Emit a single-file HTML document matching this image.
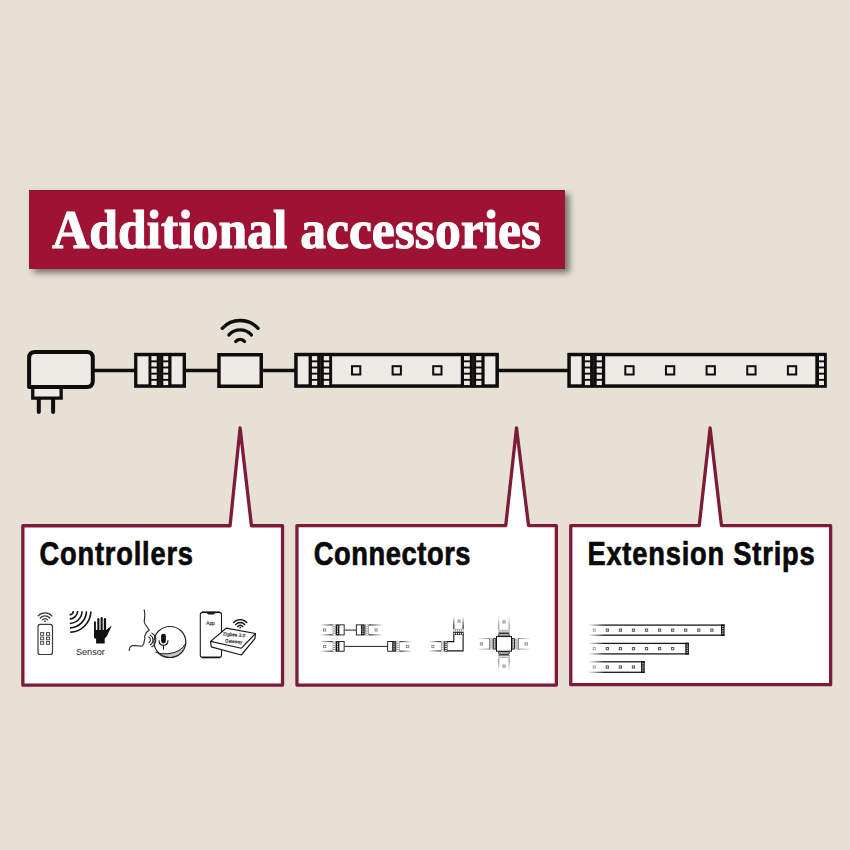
<!DOCTYPE html>
<html><head><meta charset="utf-8"><style>
html,body{margin:0;padding:0;background:#e6e0d5;}
body{width:850px;height:850px;position:relative;overflow:hidden;}
svg{position:absolute;left:0;top:0;}
</style></head><body>
<svg width="850" height="850" viewBox="0 0 850 850">
<defs><filter id="sh" x="-10%" y="-30%" width="130%" height="180%"><feGaussianBlur stdDeviation="3"/></filter><linearGradient id="g1" gradientUnits="userSpaceOnUse" x1="319.8" y1="0" x2="332.7" y2="0"><stop offset="0" stop-color="#1a1a1a" stop-opacity="0"/><stop offset="1" stop-color="#1a1a1a" stop-opacity="1"/></linearGradient>
<linearGradient id="g2" gradientUnits="userSpaceOnUse" x1="319.8" y1="0" x2="332.7" y2="0"><stop offset="0" stop-color="#1a1a1a" stop-opacity="0"/><stop offset="1" stop-color="#1a1a1a" stop-opacity="1"/></linearGradient>
<linearGradient id="g3" gradientUnits="userSpaceOnUse" x1="383.3" y1="0" x2="368.8" y2="0"><stop offset="0" stop-color="#1a1a1a" stop-opacity="0"/><stop offset="0.9655172413793104" stop-color="#1a1a1a" stop-opacity="1"/></linearGradient>
<linearGradient id="g4" gradientUnits="userSpaceOnUse" x1="383.3" y1="0" x2="368.8" y2="0"><stop offset="0" stop-color="#1a1a1a" stop-opacity="0"/><stop offset="0.9655172413793104" stop-color="#1a1a1a" stop-opacity="1"/></linearGradient>
<linearGradient id="g5" gradientUnits="userSpaceOnUse" x1="319.8" y1="0" x2="332.7" y2="0"><stop offset="0" stop-color="#1a1a1a" stop-opacity="0"/><stop offset="1" stop-color="#1a1a1a" stop-opacity="1"/></linearGradient>
<linearGradient id="g6" gradientUnits="userSpaceOnUse" x1="319.8" y1="0" x2="332.7" y2="0"><stop offset="0" stop-color="#1a1a1a" stop-opacity="0"/><stop offset="1" stop-color="#1a1a1a" stop-opacity="1"/></linearGradient>
<linearGradient id="g7" gradientUnits="userSpaceOnUse" x1="412.2" y1="0" x2="399.6" y2="0"><stop offset="0" stop-color="#1a1a1a" stop-opacity="0"/><stop offset="1" stop-color="#1a1a1a" stop-opacity="1"/></linearGradient>
<linearGradient id="g8" gradientUnits="userSpaceOnUse" x1="412.2" y1="0" x2="399.6" y2="0"><stop offset="0" stop-color="#1a1a1a" stop-opacity="0"/><stop offset="1" stop-color="#1a1a1a" stop-opacity="1"/></linearGradient>
<linearGradient id="g9" gradientUnits="userSpaceOnUse" x1="428.2" y1="0" x2="441" y2="0"><stop offset="0" stop-color="#1a1a1a" stop-opacity="0"/><stop offset="1" stop-color="#1a1a1a" stop-opacity="1"/></linearGradient>
<linearGradient id="g10" gradientUnits="userSpaceOnUse" x1="428.2" y1="0" x2="441" y2="0"><stop offset="0" stop-color="#1a1a1a" stop-opacity="0"/><stop offset="1" stop-color="#1a1a1a" stop-opacity="1"/></linearGradient>
<linearGradient id="g11" gradientUnits="userSpaceOnUse" x1="0" y1="616.2" x2="0" y2="628.9"><stop offset="0" stop-color="#1a1a1a" stop-opacity="0"/><stop offset="0.7874015748031539" stop-color="#1a1a1a" stop-opacity="1"/></linearGradient>
<linearGradient id="g12" gradientUnits="userSpaceOnUse" x1="0" y1="616.2" x2="0" y2="628.9"><stop offset="0" stop-color="#1a1a1a" stop-opacity="0"/><stop offset="0.7874015748031539" stop-color="#1a1a1a" stop-opacity="1"/></linearGradient>
<linearGradient id="g13" gradientUnits="userSpaceOnUse" x1="0" y1="615.8" x2="0" y2="629.8"><stop offset="0" stop-color="#777" stop-opacity="0"/><stop offset="0.7142857142857143" stop-color="#777" stop-opacity="1"/></linearGradient>
<linearGradient id="g14" gradientUnits="userSpaceOnUse" x1="0" y1="615.8" x2="0" y2="629.8"><stop offset="0" stop-color="#777" stop-opacity="0"/><stop offset="0.7142857142857143" stop-color="#777" stop-opacity="1"/></linearGradient>
<linearGradient id="g15" gradientUnits="userSpaceOnUse" x1="0" y1="671.5" x2="0" y2="658.1"><stop offset="0" stop-color="#777" stop-opacity="0"/><stop offset="0.7462686567164192" stop-color="#777" stop-opacity="1"/></linearGradient>
<linearGradient id="g16" gradientUnits="userSpaceOnUse" x1="0" y1="671.5" x2="0" y2="658.1"><stop offset="0" stop-color="#777" stop-opacity="0"/><stop offset="0.7462686567164192" stop-color="#777" stop-opacity="1"/></linearGradient>
<linearGradient id="g17" gradientUnits="userSpaceOnUse" x1="476.5" y1="0" x2="489.4" y2="0"><stop offset="0" stop-color="#777" stop-opacity="0"/><stop offset="1" stop-color="#777" stop-opacity="1"/></linearGradient>
<linearGradient id="g18" gradientUnits="userSpaceOnUse" x1="476.5" y1="0" x2="489.4" y2="0"><stop offset="0" stop-color="#777" stop-opacity="0"/><stop offset="1" stop-color="#777" stop-opacity="1"/></linearGradient>
<linearGradient id="g19" gradientUnits="userSpaceOnUse" x1="531.5" y1="0" x2="518.6" y2="0"><stop offset="0" stop-color="#777" stop-opacity="0"/><stop offset="1" stop-color="#777" stop-opacity="1"/></linearGradient>
<linearGradient id="g20" gradientUnits="userSpaceOnUse" x1="531.5" y1="0" x2="518.6" y2="0"><stop offset="0" stop-color="#777" stop-opacity="0"/><stop offset="1" stop-color="#777" stop-opacity="1"/></linearGradient>
<linearGradient id="g21" gradientUnits="userSpaceOnUse" x1="588.1" y1="0" x2="724.6" y2="0"><stop offset="0" stop-color="#1a1a1a" stop-opacity="0"/><stop offset="0.11721611721611722" stop-color="#1a1a1a" stop-opacity="1"/></linearGradient>
<linearGradient id="g22" gradientUnits="userSpaceOnUse" x1="588.1" y1="0" x2="724.6" y2="0"><stop offset="0" stop-color="#1a1a1a" stop-opacity="0"/><stop offset="0.11721611721611722" stop-color="#1a1a1a" stop-opacity="1"/></linearGradient>
<linearGradient id="g23" gradientUnits="userSpaceOnUse" x1="588.1" y1="0" x2="688.9" y2="0"><stop offset="0" stop-color="#1a1a1a" stop-opacity="0"/><stop offset="0.1587301587301588" stop-color="#1a1a1a" stop-opacity="1"/></linearGradient>
<linearGradient id="g24" gradientUnits="userSpaceOnUse" x1="588.1" y1="0" x2="688.9" y2="0"><stop offset="0" stop-color="#1a1a1a" stop-opacity="0"/><stop offset="0.1587301587301588" stop-color="#1a1a1a" stop-opacity="1"/></linearGradient>
<linearGradient id="g25" gradientUnits="userSpaceOnUse" x1="588.1" y1="0" x2="644.7" y2="0"><stop offset="0" stop-color="#1a1a1a" stop-opacity="0"/><stop offset="0.28268551236749107" stop-color="#1a1a1a" stop-opacity="1"/></linearGradient>
<linearGradient id="g26" gradientUnits="userSpaceOnUse" x1="588.1" y1="0" x2="644.7" y2="0"><stop offset="0" stop-color="#1a1a1a" stop-opacity="0"/><stop offset="0.28268551236749107" stop-color="#1a1a1a" stop-opacity="1"/></linearGradient></defs>
<rect x="0" y="0" width="850" height="850" fill="#e6e0d5"/>
<rect x="33.5" y="194" width="536" height="79" fill="#5f5a54" opacity="0.8" filter="url(#sh)"/>
<rect x="29" y="190" width="536" height="79" fill="#9e1233"/>
<rect x="29" y="190" width="536" height="1.2" fill="#7c1a2e" opacity="0.8"/>
<text x="52" y="248.3" font-family="Liberation Serif" font-weight="bold" font-size="54" fill="#fff" stroke="#fff" stroke-width="1.1" textLength="489" lengthAdjust="spacingAndGlyphs">Additional accessories</text>
<g stroke="#0d0d0d" stroke-width="3.3">
<line x1="90" y1="370.5" x2="136" y2="370.5"/>
<line x1="184" y1="370.5" x2="219" y2="370.5"/>
<line x1="261" y1="370.5" x2="296" y2="370.5"/>
<line x1="497" y1="370.5" x2="569" y2="370.5"/>
</g>
<path d="M32.75,386 V398.15 H61.15 V386 Z" fill="#eeebe6" stroke="#0d0d0d" stroke-width="3.3"/>
<path d="M29.1,386.9 V358 Q29.1,351.9 35.2,351.9 H86.8 Q92.8,351.9 92.8,358 V381 Q92.8,386.9 86.8,386.9 Z" fill="#eeebe6" stroke="#0d0d0d" stroke-width="4" stroke-linejoin="round"/>
<g stroke="#0d0d0d" stroke-width="4" stroke-linecap="round"><line x1="38.8" y1="399" x2="38.8" y2="411.9"/><line x1="53.1" y1="399" x2="53.1" y2="411.9"/></g>
<rect x="134.10" y="352.80" width="51.90" height="35.00" fill="#0d0d0d"/>
<rect x="137.40" y="356.30" width="11.10" height="28.00" fill="#eeebe6"/>
<rect x="151.40" y="356.10" width="5.30" height="4.30" fill="#eeebe6"/>
<rect x="151.40" y="362.27" width="5.30" height="4.30" fill="#eeebe6"/>
<rect x="151.40" y="368.44" width="5.30" height="4.30" fill="#eeebe6"/>
<rect x="151.40" y="374.61" width="5.30" height="4.30" fill="#eeebe6"/>
<rect x="151.40" y="380.78" width="5.30" height="4.30" fill="#eeebe6"/>
<rect x="163.30" y="356.10" width="4.90" height="4.30" fill="#eeebe6"/>
<rect x="163.30" y="362.27" width="4.90" height="4.30" fill="#eeebe6"/>
<rect x="163.30" y="368.44" width="4.90" height="4.30" fill="#eeebe6"/>
<rect x="163.30" y="374.61" width="4.90" height="4.30" fill="#eeebe6"/>
<rect x="163.30" y="380.78" width="4.90" height="4.30" fill="#eeebe6"/>
<rect x="171.50" y="356.30" width="11.10" height="28.00" fill="#eeebe6"/>
<rect x="218.95" y="354.75" width="42.3" height="31.5" fill="#eeebe6" stroke="#0d0d0d" stroke-width="3.5"/>
<path d="M222.23,328.29 A24.5,24.5 0 0 1 258.07,328.29" fill="none" stroke="#0d0d0d" stroke-width="3.3" stroke-linecap="round"/>
<path d="M228.93,334.90 A15.1,15.1 0 0 1 251.37,334.90" fill="none" stroke="#0d0d0d" stroke-width="3.3" stroke-linecap="round"/>
<path d="M235.74,341.55 A5.6,5.6 0 0 1 244.56,341.55" fill="none" stroke="#0d0d0d" stroke-width="3.3" stroke-linecap="round"/>
<rect x="294.20" y="352.80" width="204.70" height="35.00" fill="#0d0d0d"/>
<rect x="297.70" y="356.30" width="10.90" height="28.00" fill="#eeebe6"/>
<rect x="311.90" y="356.10" width="5.30" height="4.30" fill="#eeebe6"/>
<rect x="311.90" y="362.27" width="5.30" height="4.30" fill="#eeebe6"/>
<rect x="311.90" y="368.44" width="5.30" height="4.30" fill="#eeebe6"/>
<rect x="311.90" y="374.61" width="5.30" height="4.30" fill="#eeebe6"/>
<rect x="311.90" y="380.78" width="5.30" height="4.30" fill="#eeebe6"/>
<rect x="323.80" y="356.10" width="5.40" height="4.30" fill="#eeebe6"/>
<rect x="323.80" y="362.27" width="5.40" height="4.30" fill="#eeebe6"/>
<rect x="323.80" y="368.44" width="5.40" height="4.30" fill="#eeebe6"/>
<rect x="323.80" y="374.61" width="5.40" height="4.30" fill="#eeebe6"/>
<rect x="323.80" y="380.78" width="5.40" height="4.30" fill="#eeebe6"/>
<rect x="332.10" y="356.30" width="128.70" height="28.00" fill="#eeebe6"/>
<rect x="464.00" y="356.10" width="5.80" height="4.30" fill="#eeebe6"/>
<rect x="464.00" y="362.27" width="5.80" height="4.30" fill="#eeebe6"/>
<rect x="464.00" y="368.44" width="5.80" height="4.30" fill="#eeebe6"/>
<rect x="464.00" y="374.61" width="5.80" height="4.30" fill="#eeebe6"/>
<rect x="464.00" y="380.78" width="5.80" height="4.30" fill="#eeebe6"/>
<rect x="476.10" y="356.10" width="5.30" height="4.30" fill="#eeebe6"/>
<rect x="476.10" y="362.27" width="5.30" height="4.30" fill="#eeebe6"/>
<rect x="476.10" y="368.44" width="5.30" height="4.30" fill="#eeebe6"/>
<rect x="476.10" y="374.61" width="5.30" height="4.30" fill="#eeebe6"/>
<rect x="476.10" y="380.78" width="5.30" height="4.30" fill="#eeebe6"/>
<rect x="484.60" y="356.30" width="10.80" height="28.00" fill="#eeebe6"/>
<rect x="352.00" y="366.20" width="8.30" height="8.30" fill="none" stroke="#0d0d0d" stroke-width="2.0"/>
<rect x="392.60" y="366.20" width="8.30" height="8.30" fill="none" stroke="#0d0d0d" stroke-width="2.0"/>
<rect x="433.20" y="366.20" width="8.30" height="8.30" fill="none" stroke="#0d0d0d" stroke-width="2.0"/>
<rect x="567.30" y="352.80" width="259.50" height="35.00" fill="#0d0d0d"/>
<rect x="570.80" y="356.30" width="10.80" height="28.00" fill="#eeebe6"/>
<rect x="584.90" y="356.10" width="5.20" height="4.30" fill="#eeebe6"/>
<rect x="584.90" y="362.27" width="5.20" height="4.30" fill="#eeebe6"/>
<rect x="584.90" y="368.44" width="5.20" height="4.30" fill="#eeebe6"/>
<rect x="584.90" y="374.61" width="5.20" height="4.30" fill="#eeebe6"/>
<rect x="584.90" y="380.78" width="5.20" height="4.30" fill="#eeebe6"/>
<rect x="596.70" y="356.10" width="5.20" height="4.30" fill="#eeebe6"/>
<rect x="596.70" y="362.27" width="5.20" height="4.30" fill="#eeebe6"/>
<rect x="596.70" y="368.44" width="5.20" height="4.30" fill="#eeebe6"/>
<rect x="596.70" y="374.61" width="5.20" height="4.30" fill="#eeebe6"/>
<rect x="596.70" y="380.78" width="5.20" height="4.30" fill="#eeebe6"/>
<rect x="605.20" y="356.30" width="210.10" height="28.00" fill="#eeebe6"/>
<rect x="819.00" y="356.10" width="5.00" height="4.30" fill="#eeebe6"/>
<rect x="819.00" y="362.27" width="5.00" height="4.30" fill="#eeebe6"/>
<rect x="819.00" y="368.44" width="5.00" height="4.30" fill="#eeebe6"/>
<rect x="819.00" y="374.61" width="5.00" height="4.30" fill="#eeebe6"/>
<rect x="819.00" y="380.78" width="5.00" height="4.30" fill="#eeebe6"/>
<rect x="625.30" y="366.20" width="8.30" height="8.30" fill="none" stroke="#0d0d0d" stroke-width="2.0"/>
<rect x="665.95" y="366.20" width="8.30" height="8.30" fill="none" stroke="#0d0d0d" stroke-width="2.0"/>
<rect x="706.60" y="366.20" width="8.30" height="8.30" fill="none" stroke="#0d0d0d" stroke-width="2.0"/>
<rect x="747.25" y="366.20" width="8.30" height="8.30" fill="none" stroke="#0d0d0d" stroke-width="2.0"/>
<rect x="787.90" y="366.20" width="8.30" height="8.30" fill="none" stroke="#0d0d0d" stroke-width="2.0"/>
<line x1="159.9" y1="355.5" x2="159.9" y2="385.2" stroke="#4a4a4a" stroke-width="0.45"/>
<line x1="320.6" y1="355.5" x2="320.6" y2="385.2" stroke="#4a4a4a" stroke-width="0.45"/>
<line x1="473.0" y1="355.5" x2="473.0" y2="385.2" stroke="#4a4a4a" stroke-width="0.45"/>
<line x1="593.4" y1="355.5" x2="593.4" y2="385.2" stroke="#4a4a4a" stroke-width="0.45"/>
<path d="M22.849999999999998,525.75 H230.05 L240.1,428.0 L251.45,525.75 H282.55 V685.0500000000001 H22.849999999999998 Z" fill="#fff" stroke="#7e1b38" stroke-width="3.3" stroke-linejoin="round"/>
<path d="M296.95,525.55 H505.75 L516.5,428.0 L528.5500000000001,525.55 H556.35 V685.0500000000001 H296.95 Z" fill="#fff" stroke="#7e1b38" stroke-width="3.3" stroke-linejoin="round"/>
<path d="M570.75,525.55 H699.25 L710.1,428.0 L721.45,525.55 H830.65 V684.65 H570.75 Z" fill="#fff" stroke="#7e1b38" stroke-width="3.3" stroke-linejoin="round"/>
<rect x="38" y="624.4" width="14.5" height="30.1" rx="2.3" fill="#fff" stroke="#3a3a3a" stroke-width="1.2"/>
<rect x="40.60" y="632.60" width="3.1" height="2.7" fill="none" stroke="#444" stroke-width="0.95"/>
<rect x="40.60" y="637.10" width="3.1" height="2.7" fill="none" stroke="#444" stroke-width="0.95"/>
<rect x="40.60" y="641.60" width="3.1" height="2.7" fill="none" stroke="#444" stroke-width="0.95"/>
<rect x="46.50" y="632.60" width="3.1" height="2.7" fill="none" stroke="#444" stroke-width="0.95"/>
<rect x="46.50" y="637.10" width="3.1" height="2.7" fill="none" stroke="#444" stroke-width="0.95"/>
<rect x="46.50" y="641.60" width="3.1" height="2.7" fill="none" stroke="#444" stroke-width="0.95"/>
<path d="M38.16,615.84 A9.2,9.2 0 0 1 51.84,615.84" fill="none" stroke="#3a3a3a" stroke-width="1.3" stroke-linecap="round"/>
<path d="M40.25,618.01 A6.2,6.2 0 0 1 49.75,618.01" fill="none" stroke="#3a3a3a" stroke-width="1.3" stroke-linecap="round"/>
<path d="M42.32,619.91 A3.4,3.4 0 0 1 47.68,619.91" fill="none" stroke="#3a3a3a" stroke-width="1.3" stroke-linecap="round"/>
<circle cx="45" cy="621.2" r="0.9" fill="#3a3a3a"/>
<path d="M73.30,610.94 A3.9,3.9 0 0 1 69.54,614.70" fill="none" stroke="#111" stroke-width="1.55" stroke-linecap="butt"/>
<path d="M77.69,611.09 A8.3,8.3 0 0 1 69.69,619.09" fill="none" stroke="#111" stroke-width="1.55" stroke-linecap="butt"/>
<path d="M82.09,611.24 A12.7,12.7 0 0 1 69.84,623.49" fill="none" stroke="#111" stroke-width="1.55" stroke-linecap="butt"/>
<path d="M86.49,611.40 A17.1,17.1 0 0 1 70.00,627.89" fill="none" stroke="#111" stroke-width="1.55" stroke-linecap="butt"/>
<path d="M90.89,611.55 A21.5,21.5 0 0 1 70.15,632.29" fill="none" stroke="#111" stroke-width="1.55" stroke-linecap="butt"/>
<g fill="#111"><rect x="94" y="621.2" width="1.9" height="17" rx="0.95"/><rect x="97.3" y="618" width="2.1" height="16" rx="1"/><rect x="100.6" y="617" width="2.1" height="16" rx="1"/><rect x="103.8" y="618" width="2.3" height="16" rx="1.1"/><path d="M94,630 H106.2 L111.8,625.4 L107.5,635 Q106,638 104.7,638.5 V643.6 H96.1 V639 Q94,638 94,635 Z"/></g>
<text x="75.9" y="655" font-family="Liberation Sans" font-size="9.5" fill="#222" textLength="29" lengthAdjust="spacingAndGlyphs">Sensor</text>
<path d="M144.1,609.3 Q145.4,614.5 144.6,618 Q143.6,621.5 144.8,623.5 L149.3,630.2 Q147,631.5 146.3,632.6 Q145.6,633.8 145.6,634.6 Q144.2,635.8 144.5,636.8 Q145.4,637.6 144.9,638.6 Q144.2,639.8 144.3,641.3 Q144,644.2 142.5,645.6 Q141.5,646.3 139.5,646 Q134,645.3 132,645.8 Q129.9,646.6 129.6,648.4 L129.1,650.8" fill="none" stroke="#222" stroke-width="1.1" stroke-linejoin="round"/>
<path d="M155.6,652.2 Q163,660 172,657.8 Q182,655.5 185.9,643.6 Q180,652 168,653.2 Q160,653.8 155.6,652.2 Z" fill="#c4c4c4"/>
<ellipse cx="169.9" cy="642" rx="15.9" ry="15.5" fill="none" stroke="#222" stroke-width="1.2"/>
<path d="M155.6,652.2 Q161,654.5 168,653.8 Q181,652.5 186,643.2" fill="none" stroke="#222" stroke-width="1"/>
<rect x="161.1" y="633.7" width="4.8" height="9.8" rx="2.4" fill="#111"/>
<path d="M159,640.2 Q159,645.2 163.5,645.2 Q168,645.2 168,640.2" fill="none" stroke="#111" stroke-width="1.1"/>
<line x1="163.5" y1="645.2" x2="163.5" y2="649.6" stroke="#111" stroke-width="1.1"/>
<path d="M148.49,636.84 A3.4,3.4 0 0 1 148.49,642.96" fill="none" stroke="#222" stroke-width="1.05" stroke-linecap="butt"/>
<path d="M149.85,634.87 A5.6,5.6 0 0 1 149.85,644.93" fill="none" stroke="#222" stroke-width="1.05" stroke-linecap="butt"/>
<path d="M151.42,632.89 A7.8,7.8 0 0 1 151.42,646.91" fill="none" stroke="#222" stroke-width="1.05" stroke-linecap="butt"/>
<rect x="200.3" y="612.4" width="21.2" height="45" rx="2.2" fill="#fff" stroke="#1a1a1a" stroke-width="1.1"/>
<line x1="202" y1="612.3" x2="219.8" y2="612.3" stroke="#111" stroke-width="1.6"/>
<line x1="202" y1="657.5" x2="219.8" y2="657.5" stroke="#111" stroke-width="1.6"/>
<path d="M206.8,612.6 H215 Q215,614.4 213.5,614.4 H208.3 Q206.8,614.4 206.8,612.6 Z" fill="#1a1a1a"/>
<text x="206.2" y="624.6" font-family="Liberation Sans" font-size="5.8" fill="#111" stroke="#111" stroke-width="0.12" textLength="8.6" lengthAdjust="spacingAndGlyphs">App</text>
<path d="M210.6,641.4 L226.1,628.2 L255.5,633.5 L254.9,638.6 L241.3,655 L211.2,646.8 Z" fill="#fff" stroke="#1a1a1a" stroke-width="1.2" stroke-linejoin="round"/>
<path d="M210.6,641.4 L241.2,648.3 L255.5,633.5" fill="none" stroke="#1a1a1a" stroke-width="1.1" stroke-linejoin="round"/>
<g transform="rotate(5 234 638)" font-family="Liberation Sans" font-size="4.8" fill="#111" stroke="#111" stroke-width="0.15"><text x="222.5" y="636.3" textLength="22.5" lengthAdjust="spacingAndGlyphs">Zigbee 3.0</text><text x="225.5" y="643" textLength="17" lengthAdjust="spacingAndGlyphs">Gateway</text></g>
<path d="M233.66,622.51 A8.8,8.8 0 0 1 246.74,622.51" fill="none" stroke="#111" stroke-width="1.4" stroke-linecap="round"/>
<path d="M235.68,624.61 A5.9,5.9 0 0 1 244.72,624.61" fill="none" stroke="#111" stroke-width="1.4" stroke-linecap="round"/>
<path d="M237.66,626.62 A3.1,3.1 0 0 1 242.74,626.62" fill="none" stroke="#111" stroke-width="1.4" stroke-linecap="round"/>
<circle cx="240.2" cy="627.6" r="0.9" fill="#111"/>
<rect x="319.80" y="624.40" width="12.90" height="1.1" fill="url(#g1)"/>
<rect x="319.80" y="634.30" width="12.90" height="1.1" fill="url(#g2)"/>
<rect x="323.55" y="628.85" width="2.20" height="2.20" fill="none" stroke="#888" stroke-width="0.9"/>
<rect x="332.70" y="624.40" width="2.90" height="11.00" fill="#8c8c8c"/>
<rect x="333.25" y="624.84" width="1.80" height="1.32" fill="#fff"/>
<rect x="333.25" y="627.04" width="1.80" height="1.32" fill="#fff"/>
<rect x="333.25" y="629.24" width="1.80" height="1.32" fill="#fff"/>
<rect x="333.25" y="631.44" width="1.80" height="1.32" fill="#fff"/>
<rect x="333.25" y="633.64" width="1.80" height="1.32" fill="#fff"/>
<rect x="335.80" y="624.40" width="8.80" height="11.00" fill="#111"/>
<rect x="336.70" y="625.30" width="1.80" height="9.20" fill="#111"/>
<rect x="337.04" y="625.67" width="1.12" height="1.10" fill="#fff"/>
<rect x="337.04" y="627.51" width="1.12" height="1.10" fill="#fff"/>
<rect x="337.04" y="629.35" width="1.12" height="1.10" fill="#fff"/>
<rect x="337.04" y="631.19" width="1.12" height="1.10" fill="#fff"/>
<rect x="337.04" y="633.03" width="1.12" height="1.10" fill="#fff"/>
<rect x="339.40" y="625.30" width="4.30" height="9.20" fill="#fff"/>
<line x1="344.6" y1="630.1" x2="356" y2="630.1" stroke="#222" stroke-width="1"/>
<rect x="355.90" y="624.40" width="8.80" height="11.00" fill="#111"/>
<rect x="362.00" y="625.30" width="1.80" height="9.20" fill="#111"/>
<rect x="362.34" y="625.67" width="1.12" height="1.10" fill="#fff"/>
<rect x="362.34" y="627.51" width="1.12" height="1.10" fill="#fff"/>
<rect x="362.34" y="629.35" width="1.12" height="1.10" fill="#fff"/>
<rect x="362.34" y="631.19" width="1.12" height="1.10" fill="#fff"/>
<rect x="362.34" y="633.03" width="1.12" height="1.10" fill="#fff"/>
<rect x="356.80" y="625.30" width="4.30" height="9.20" fill="#fff"/>
<rect x="365.00" y="624.40" width="3.80" height="11.00" fill="#8c8c8c"/>
<rect x="365.72" y="624.84" width="2.36" height="1.32" fill="#fff"/>
<rect x="365.72" y="627.04" width="2.36" height="1.32" fill="#fff"/>
<rect x="365.72" y="629.24" width="2.36" height="1.32" fill="#fff"/>
<rect x="365.72" y="631.44" width="2.36" height="1.32" fill="#fff"/>
<rect x="365.72" y="633.64" width="2.36" height="1.32" fill="#fff"/>
<rect x="368.80" y="624.40" width="14.50" height="1.1" fill="url(#g3)"/>
<rect x="368.80" y="634.30" width="14.50" height="1.1" fill="url(#g4)"/>
<rect x="374.95" y="628.85" width="2.20" height="2.20" fill="none" stroke="#888" stroke-width="0.9"/>
<rect x="319.80" y="641.10" width="12.90" height="1.1" fill="url(#g5)"/>
<rect x="319.80" y="650.60" width="12.90" height="1.1" fill="url(#g6)"/>
<rect x="323.55" y="645.45" width="2.20" height="2.20" fill="none" stroke="#888" stroke-width="0.9"/>
<rect x="332.70" y="641.10" width="2.90" height="10.60" fill="#8c8c8c"/>
<rect x="333.25" y="641.52" width="1.80" height="1.27" fill="#fff"/>
<rect x="333.25" y="643.64" width="1.80" height="1.27" fill="#fff"/>
<rect x="333.25" y="645.76" width="1.80" height="1.27" fill="#fff"/>
<rect x="333.25" y="647.88" width="1.80" height="1.27" fill="#fff"/>
<rect x="333.25" y="650.00" width="1.80" height="1.27" fill="#fff"/>
<rect x="335.80" y="641.10" width="8.80" height="10.60" fill="#111"/>
<rect x="336.70" y="642.00" width="1.80" height="8.80" fill="#111"/>
<rect x="337.04" y="642.35" width="1.12" height="1.06" fill="#fff"/>
<rect x="337.04" y="644.11" width="1.12" height="1.06" fill="#fff"/>
<rect x="337.04" y="645.87" width="1.12" height="1.06" fill="#fff"/>
<rect x="337.04" y="647.63" width="1.12" height="1.06" fill="#fff"/>
<rect x="337.04" y="649.39" width="1.12" height="1.06" fill="#fff"/>
<rect x="339.40" y="642.00" width="4.30" height="8.80" fill="#fff"/>
<line x1="344.6" y1="646.4" x2="388" y2="646.4" stroke="#222" stroke-width="1"/>
<rect x="387.20" y="641.10" width="8.60" height="10.60" fill="#111"/>
<rect x="393.10" y="642.00" width="1.80" height="8.80" fill="#111"/>
<rect x="393.44" y="642.35" width="1.12" height="1.06" fill="#fff"/>
<rect x="393.44" y="644.11" width="1.12" height="1.06" fill="#fff"/>
<rect x="393.44" y="645.87" width="1.12" height="1.06" fill="#fff"/>
<rect x="393.44" y="647.63" width="1.12" height="1.06" fill="#fff"/>
<rect x="393.44" y="649.39" width="1.12" height="1.06" fill="#fff"/>
<rect x="388.10" y="642.00" width="4.10" height="8.80" fill="#fff"/>
<rect x="396.30" y="641.10" width="3.30" height="10.60" fill="#8c8c8c"/>
<rect x="396.93" y="641.52" width="2.05" height="1.27" fill="#fff"/>
<rect x="396.93" y="643.64" width="2.05" height="1.27" fill="#fff"/>
<rect x="396.93" y="645.76" width="2.05" height="1.27" fill="#fff"/>
<rect x="396.93" y="647.88" width="2.05" height="1.27" fill="#fff"/>
<rect x="396.93" y="650.00" width="2.05" height="1.27" fill="#fff"/>
<rect x="399.60" y="641.10" width="12.60" height="1.1" fill="url(#g7)"/>
<rect x="399.60" y="650.60" width="12.60" height="1.1" fill="url(#g8)"/>
<rect x="406.55" y="645.45" width="2.20" height="2.20" fill="none" stroke="#888" stroke-width="0.9"/>
<rect x="428.20" y="641.05" width="12.80" height="1.1" fill="url(#g9)"/>
<rect x="428.20" y="650.35" width="12.80" height="1.1" fill="url(#g10)"/>
<rect x="431.75" y="645.45" width="2.20" height="2.20" fill="none" stroke="#888" stroke-width="0.9"/>
<rect x="440.90" y="641.10" width="3.00" height="10.30" fill="#8c8c8c"/>
<rect x="441.47" y="641.51" width="1.86" height="1.24" fill="#fff"/>
<rect x="441.47" y="643.57" width="1.86" height="1.24" fill="#fff"/>
<rect x="441.47" y="645.63" width="1.86" height="1.24" fill="#fff"/>
<rect x="441.47" y="647.69" width="1.86" height="1.24" fill="#fff"/>
<rect x="441.47" y="649.75" width="1.86" height="1.24" fill="#fff"/>
<path d="M444.9,641.6 H453.8 V632.9 H463.1 V650.9 H444.9 Z" fill="#fff" stroke="#111" stroke-width="1.1"/>
<rect x="444.60" y="641.10" width="2.80" height="10.30" fill="#111"/>
<rect x="445.13" y="641.51" width="1.74" height="1.24" fill="#fff"/>
<rect x="445.13" y="643.57" width="1.74" height="1.24" fill="#fff"/>
<rect x="445.13" y="645.63" width="1.74" height="1.24" fill="#fff"/>
<rect x="445.13" y="647.69" width="1.74" height="1.24" fill="#fff"/>
<rect x="445.13" y="649.75" width="1.74" height="1.24" fill="#fff"/>
<rect x="453.30" y="632.40" width="10.30" height="2.60" fill="#111"/>
<rect x="453.71" y="632.89" width="1.24" height="1.61" fill="#fff"/>
<rect x="455.77" y="632.89" width="1.24" height="1.61" fill="#fff"/>
<rect x="457.83" y="632.89" width="1.24" height="1.61" fill="#fff"/>
<rect x="459.89" y="632.89" width="1.24" height="1.61" fill="#fff"/>
<rect x="461.95" y="632.89" width="1.24" height="1.61" fill="#fff"/>
<rect x="453.30" y="628.90" width="10.30" height="3.00" fill="#8c8c8c"/>
<rect x="453.71" y="629.47" width="1.24" height="1.86" fill="#fff"/>
<rect x="455.77" y="629.47" width="1.24" height="1.86" fill="#fff"/>
<rect x="457.83" y="629.47" width="1.24" height="1.86" fill="#fff"/>
<rect x="459.89" y="629.47" width="1.24" height="1.86" fill="#fff"/>
<rect x="461.95" y="629.47" width="1.24" height="1.86" fill="#fff"/>
<rect x="453.25" y="616.20" width="1.1" height="12.70" fill="url(#g11)"/>
<rect x="462.55" y="616.20" width="1.1" height="12.70" fill="url(#g12)"/>
<rect x="457.95" y="620.05" width="2.20" height="2.20" fill="none" stroke="#888" stroke-width="0.9"/>
<rect x="498.35" y="615.80" width="0.9" height="14.00" fill="url(#g13)"/>
<rect x="508.65" y="615.80" width="0.9" height="14.00" fill="url(#g14)"/>
<rect x="498.35" y="658.10" width="0.9" height="13.40" fill="url(#g15)"/>
<rect x="508.65" y="658.10" width="0.9" height="13.40" fill="url(#g16)"/>
<rect x="476.50" y="638.15" width="12.90" height="0.9" fill="url(#g17)"/>
<rect x="476.50" y="648.65" width="12.90" height="0.9" fill="url(#g18)"/>
<rect x="518.60" y="638.15" width="12.90" height="0.9" fill="url(#g19)"/>
<rect x="518.60" y="648.65" width="12.90" height="0.9" fill="url(#g20)"/>
<rect x="498.30" y="629.80" width="11.30" height="2.80" fill="#b4b4b4"/>
<rect x="498.30" y="631.90" width="11.30" height="0.7" fill="#666"/>
<rect x="498.68" y="630.70" width="1.13" height="1.0" fill="#f4f4f4"/>
<rect x="500.56" y="630.70" width="1.13" height="1.0" fill="#f4f4f4"/>
<rect x="502.44" y="630.70" width="1.13" height="1.0" fill="#f4f4f4"/>
<rect x="504.33" y="630.70" width="1.13" height="1.0" fill="#f4f4f4"/>
<rect x="506.21" y="630.70" width="1.13" height="1.0" fill="#f4f4f4"/>
<rect x="508.09" y="630.70" width="1.13" height="1.0" fill="#f4f4f4"/>
<g transform="rotate(180 504 643.9)">
<rect x="498.30" y="629.80" width="11.30" height="2.80" fill="#b4b4b4"/>
<rect x="498.30" y="631.90" width="11.30" height="0.7" fill="#666"/>
<rect x="498.68" y="630.70" width="1.13" height="1.0" fill="#f4f4f4"/>
<rect x="500.56" y="630.70" width="1.13" height="1.0" fill="#f4f4f4"/>
<rect x="502.44" y="630.70" width="1.13" height="1.0" fill="#f4f4f4"/>
<rect x="504.33" y="630.70" width="1.13" height="1.0" fill="#f4f4f4"/>
<rect x="506.21" y="630.70" width="1.13" height="1.0" fill="#f4f4f4"/>
<rect x="508.09" y="630.70" width="1.13" height="1.0" fill="#f4f4f4"/>
</g>
<rect x="489.40" y="638.10" width="3.20" height="11.50" fill="#b4b4b4"/>
<rect x="489.40" y="638.10" width="0.7" height="11.50" fill="#666"/>
<rect x="490.50" y="638.48" width="1.0" height="1.15" fill="#f4f4f4"/>
<rect x="490.50" y="640.40" width="1.0" height="1.15" fill="#f4f4f4"/>
<rect x="490.50" y="642.32" width="1.0" height="1.15" fill="#f4f4f4"/>
<rect x="490.50" y="644.23" width="1.0" height="1.15" fill="#f4f4f4"/>
<rect x="490.50" y="646.15" width="1.0" height="1.15" fill="#f4f4f4"/>
<rect x="490.50" y="648.07" width="1.0" height="1.15" fill="#f4f4f4"/>
<g transform="rotate(180 504 643.9)">
<rect x="489.40" y="638.10" width="3.20" height="11.50" fill="#b4b4b4"/>
<rect x="489.40" y="638.10" width="0.7" height="11.50" fill="#666"/>
<rect x="490.50" y="638.48" width="1.0" height="1.15" fill="#f4f4f4"/>
<rect x="490.50" y="640.40" width="1.0" height="1.15" fill="#f4f4f4"/>
<rect x="490.50" y="642.32" width="1.0" height="1.15" fill="#f4f4f4"/>
<rect x="490.50" y="644.23" width="1.0" height="1.15" fill="#f4f4f4"/>
<rect x="490.50" y="646.15" width="1.0" height="1.15" fill="#f4f4f4"/>
<rect x="490.50" y="648.07" width="1.0" height="1.15" fill="#f4f4f4"/>
</g>
<rect x="498.75" y="633.45" width="10.40" height="2.70" rx="0.6" fill="#8a8a8a" stroke="#111" stroke-width="0.9"/>
<rect x="499.49" y="634.25" width="1.01" height="1.1" fill="#e8e8e8"/>
<rect x="501.07" y="634.25" width="1.01" height="1.1" fill="#e8e8e8"/>
<rect x="502.65" y="634.25" width="1.01" height="1.1" fill="#e8e8e8"/>
<rect x="504.24" y="634.25" width="1.01" height="1.1" fill="#e8e8e8"/>
<rect x="505.82" y="634.25" width="1.01" height="1.1" fill="#e8e8e8"/>
<rect x="507.40" y="634.25" width="1.01" height="1.1" fill="#e8e8e8"/>
<rect x="498.75" y="651.65" width="10.40" height="2.70" rx="0.6" fill="#8a8a8a" stroke="#111" stroke-width="0.9"/>
<rect x="499.49" y="652.45" width="1.01" height="1.1" fill="#e8e8e8"/>
<rect x="501.07" y="652.45" width="1.01" height="1.1" fill="#e8e8e8"/>
<rect x="502.65" y="652.45" width="1.01" height="1.1" fill="#e8e8e8"/>
<rect x="504.24" y="652.45" width="1.01" height="1.1" fill="#e8e8e8"/>
<rect x="505.82" y="652.45" width="1.01" height="1.1" fill="#e8e8e8"/>
<rect x="507.40" y="652.45" width="1.01" height="1.1" fill="#e8e8e8"/>
<rect x="493.25" y="638.55" width="2.70" height="10.60" rx="0.6" fill="#8a8a8a" stroke="#111" stroke-width="0.9"/>
<rect x="494.05" y="639.29" width="1.1" height="1.03" fill="#e8e8e8"/>
<rect x="494.05" y="640.91" width="1.1" height="1.03" fill="#e8e8e8"/>
<rect x="494.05" y="642.52" width="1.1" height="1.03" fill="#e8e8e8"/>
<rect x="494.05" y="644.14" width="1.1" height="1.03" fill="#e8e8e8"/>
<rect x="494.05" y="645.76" width="1.1" height="1.03" fill="#e8e8e8"/>
<rect x="494.05" y="647.37" width="1.1" height="1.03" fill="#e8e8e8"/>
<rect x="511.85" y="638.55" width="2.70" height="10.60" rx="0.6" fill="#8a8a8a" stroke="#111" stroke-width="0.9"/>
<rect x="512.65" y="639.29" width="1.1" height="1.03" fill="#e8e8e8"/>
<rect x="512.65" y="640.91" width="1.1" height="1.03" fill="#e8e8e8"/>
<rect x="512.65" y="642.52" width="1.1" height="1.03" fill="#e8e8e8"/>
<rect x="512.65" y="644.14" width="1.1" height="1.03" fill="#e8e8e8"/>
<rect x="512.65" y="645.76" width="1.1" height="1.03" fill="#e8e8e8"/>
<rect x="512.65" y="647.37" width="1.1" height="1.03" fill="#e8e8e8"/>
<rect x="496.5" y="636.6" width="15" height="14.6" fill="#fff" stroke="#111" stroke-width="1.0"/>
<rect x="502.95" y="620.75" width="2.20" height="2.20" fill="none" stroke="#888" stroke-width="0.9"/>
<rect x="502.95" y="665.05" width="2.20" height="2.20" fill="none" stroke="#888" stroke-width="0.9"/>
<rect x="480.35" y="642.75" width="2.20" height="2.20" fill="none" stroke="#888" stroke-width="0.9"/>
<rect x="525.15" y="642.75" width="2.20" height="2.20" fill="none" stroke="#888" stroke-width="0.9"/>
<rect x="588.10" y="624.45" width="136.50" height="1.3" fill="url(#g21)"/>
<rect x="588.10" y="634.55" width="136.50" height="1.3" fill="url(#g22)"/>
<rect x="721.00" y="624.45" width="3.6" height="11.40" fill="#111"/>
<rect x="722.00" y="625.70" width="1.70" height="8.90" fill="#111"/>
<rect x="722.32" y="626.06" width="1.05" height="1.07" fill="#fff"/>
<rect x="722.32" y="627.84" width="1.05" height="1.07" fill="#fff"/>
<rect x="722.32" y="629.62" width="1.05" height="1.07" fill="#fff"/>
<rect x="722.32" y="631.40" width="1.05" height="1.07" fill="#fff"/>
<rect x="722.32" y="633.18" width="1.05" height="1.07" fill="#fff"/>
<rect x="593.20" y="629.05" width="2.20" height="2.20" fill="none" stroke="#aaa" stroke-width="1.0"/>
<rect x="606.26" y="629.05" width="2.20" height="2.20" fill="none" stroke="#555" stroke-width="1.0"/>
<rect x="619.32" y="629.05" width="2.20" height="2.20" fill="none" stroke="#555" stroke-width="1.0"/>
<rect x="632.38" y="629.05" width="2.20" height="2.20" fill="none" stroke="#555" stroke-width="1.0"/>
<rect x="645.44" y="629.05" width="2.20" height="2.20" fill="none" stroke="#555" stroke-width="1.0"/>
<rect x="658.50" y="629.05" width="2.20" height="2.20" fill="none" stroke="#555" stroke-width="1.0"/>
<rect x="671.56" y="629.05" width="2.20" height="2.20" fill="none" stroke="#555" stroke-width="1.0"/>
<rect x="684.62" y="629.05" width="2.20" height="2.20" fill="none" stroke="#555" stroke-width="1.0"/>
<rect x="697.68" y="629.05" width="2.20" height="2.20" fill="none" stroke="#555" stroke-width="1.0"/>
<rect x="710.74" y="629.05" width="2.20" height="2.20" fill="none" stroke="#555" stroke-width="1.0"/>
<rect x="588.10" y="642.75" width="100.80" height="1.3" fill="url(#g23)"/>
<rect x="588.10" y="653.25" width="100.80" height="1.3" fill="url(#g24)"/>
<rect x="685.30" y="642.75" width="3.6" height="11.80" fill="#111"/>
<rect x="686.30" y="644.00" width="1.70" height="9.30" fill="#111"/>
<rect x="686.62" y="644.37" width="1.05" height="1.12" fill="#fff"/>
<rect x="686.62" y="646.23" width="1.05" height="1.12" fill="#fff"/>
<rect x="686.62" y="648.09" width="1.05" height="1.12" fill="#fff"/>
<rect x="686.62" y="649.95" width="1.05" height="1.12" fill="#fff"/>
<rect x="686.62" y="651.81" width="1.05" height="1.12" fill="#fff"/>
<rect x="593.20" y="647.55" width="2.20" height="2.20" fill="none" stroke="#aaa" stroke-width="1.0"/>
<rect x="606.26" y="647.55" width="2.20" height="2.20" fill="none" stroke="#555" stroke-width="1.0"/>
<rect x="619.32" y="647.55" width="2.20" height="2.20" fill="none" stroke="#555" stroke-width="1.0"/>
<rect x="632.38" y="647.55" width="2.20" height="2.20" fill="none" stroke="#555" stroke-width="1.0"/>
<rect x="645.44" y="647.55" width="2.20" height="2.20" fill="none" stroke="#555" stroke-width="1.0"/>
<rect x="658.50" y="647.55" width="2.20" height="2.20" fill="none" stroke="#555" stroke-width="1.0"/>
<rect x="671.56" y="647.55" width="2.20" height="2.20" fill="none" stroke="#555" stroke-width="1.0"/>
<rect x="588.10" y="661.15" width="56.60" height="1.3" fill="url(#g25)"/>
<rect x="588.10" y="671.65" width="56.60" height="1.3" fill="url(#g26)"/>
<rect x="641.10" y="661.15" width="3.6" height="11.80" fill="#111"/>
<rect x="642.10" y="662.40" width="1.70" height="9.30" fill="#111"/>
<rect x="642.42" y="662.77" width="1.05" height="1.12" fill="#fff"/>
<rect x="642.42" y="664.63" width="1.05" height="1.12" fill="#fff"/>
<rect x="642.42" y="666.49" width="1.05" height="1.12" fill="#fff"/>
<rect x="642.42" y="668.35" width="1.05" height="1.12" fill="#fff"/>
<rect x="642.42" y="670.21" width="1.05" height="1.12" fill="#fff"/>
<rect x="593.20" y="665.95" width="2.20" height="2.20" fill="none" stroke="#aaa" stroke-width="1.0"/>
<rect x="606.26" y="665.95" width="2.20" height="2.20" fill="none" stroke="#555" stroke-width="1.0"/>
<rect x="619.32" y="665.95" width="2.20" height="2.20" fill="none" stroke="#555" stroke-width="1.0"/>
<rect x="632.38" y="665.95" width="2.20" height="2.20" fill="none" stroke="#555" stroke-width="1.0"/>
<g font-family="Liberation Sans" font-weight="bold" font-size="32.5" fill="#0a0a0a" stroke="#0a0a0a" stroke-width="0.7">
<text transform="translate(39.6 565.2) scale(0.84 1)" x="0" y="0" textLength="182.62" lengthAdjust="spacing">Controllers</text>
<text transform="translate(313.8 564.6) scale(0.84 1)" x="0" y="0" textLength="186.55" lengthAdjust="spacing">Connectors</text>
<text transform="translate(587.4 564.7) scale(0.84 1)" x="0" y="0" textLength="270.60" lengthAdjust="spacing">Extension Strips</text>
</g>
</svg>
</body></html>
